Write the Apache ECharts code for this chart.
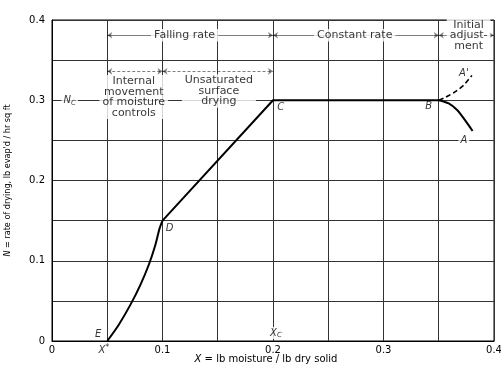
<!DOCTYPE html>
<html>
<head>
<meta charset="utf-8">
<script src="https://cdn.jsdelivr.net/npm/echarts@6/dist/echarts.min.js"></script>
<style>
html,body{margin:0;padding:0;background:#fff;}
#main{width:501px;height:365px;}
</style>
</head>
<body>
<div id="main"></div>
<script>
// drying rate curve
var curveED = [[0.05,0],[0.0603,0.02],[0.0709,0.045],[0.080,0.07],[0.0876,0.095],[0.0936,0.12],[0.0973,0.14],[0.1,0.15]];
var lineDCB = [[0.1,0.15],[0.2,0.3],[0.35,0.3]];
var curveBA = [[0.35,0.3],[0.359,0.296],[0.3666,0.2878],[0.3726,0.2775],[0.377,0.269],[0.3806,0.2617]];
var curveBA2 = [[0.35,0.3],[0.356,0.3037],[0.365,0.3107],[0.3727,0.319],[0.380,0.331]]; // dashed, to A'
var xTicks = ['0','0.1','0.2','0.3','0.4'];
var yTicks = ['0','0.1','0.2','0.3','0.4'];

// zone headings (x, y in data units)
var zoneTexts = [
	{value:[0.12,0.381], name:'Falling rate'},
	{value:[0.274,0.381], name:'Constant rate'},
	{value:[0.377,0.381], name:'Initial\nadjust-\nment'},
	{value:[0.074,0.304], name:'Internal\nmovement\nof moisture\ncontrols'},
	{value:[0.151,0.3115], name:'Unsaturated\nsurface\ndrying'}
];
// arrows: [x1, x2, y]
var arrowRows = [[0.05,0.2,0.381],[0.2,0.35,0.381],[0.35,0.4,0.381],[0.05,0.1,0.336],[0.1,0.2,0.336]];
// point letters
var pointTexts = [
	{value:[0.207,0.2916], name:'{i|C}'},
	{value:[0.341,0.292], name:'{i|B}'},
	{value:[0.3727,0.2496], name:'{i|A}'},
	{value:[0.3727,0.3336], name:'{i|A\'}'},
	{value:[0.1064,0.1408], name:'{i|D}'},
	{value:[0.0418,0.0087], name:'{i|E}'},
	{value:[0.016,0.3], name:'{i|N}{sub|C}'},
	{value:[0.047,-0.0115], name:'{i|X}{sup|*}'},
	{value:[0.2027,0.01], name:'{i|X}{sub|C}'}
];

var myChart = echarts.init(document.getElementById('main'));
var fnt = 'DejaVu Sans';
var ink = '#000';

function tickFmt(list){
	return function(v){
		var i = Math.round(v*10);
		if(Math.abs(v*10-i)<1e-6){
			return list[i];
		}
		return '';
	};
}

var arrowData = [];
for(var i=0;i<arrowRows.length;i++){
	var r = arrowRows[i];
	arrowData.push({coords:[[r[0],r[2]],[r[1],r[2]]], lineStyle:{type: r[2]<0.35 ? [3,2] : 'solid'}});
}

var richStyle = {
	i:{fontStyle:'italic', fontFamily:fnt, fontSize:10, color:ink, lineHeight:12},
	sub:{fontStyle:'italic', fontFamily:fnt, fontSize:7, color:ink, verticalAlign:'bottom', lineHeight:12},
	sup:{fontFamily:fnt, fontSize:8, color:ink, verticalAlign:'top', lineHeight:12}
};

var option = {
	backgroundColor:'#fff',
	animation:false,
	grid:{left:52, right:7, top:20, bottom:24, show:true, borderColor:ink, borderWidth:1, outerBoundsMode:'none', containLabel:false},
	xAxis:{
		type:'value', min:0, max:0.4, interval:0.05,
		name:'{i|X} = lb moisture / lb dry solid',
		nameLocation:'middle', nameGap:18, nameMoveOverlap:false,
		nameTextStyle:{fontFamily:fnt, fontSize:10, color:ink, padding:[0,14,0,0], verticalAlign:'middle',
			rich:{i:{fontStyle:'italic', fontFamily:fnt, fontSize:10, color:ink}}},
		axisLine:{lineStyle:{color:ink, width:1}},
		axisTick:{show:false},
		axisLabel:{formatter:tickFmt(xTicks), fontFamily:fnt, fontSize:10, color:ink, margin:4},
		splitLine:{lineStyle:{color:'#333', width:1}}
	},
	yAxis:{
		type:'value', min:0, max:0.4, interval:0.05,
		name:'{i|N} = rate of drying, lb evap\'d / hr sq ft',
		nameLocation:'middle', nameGap:40,
		nameTextStyle:{fontFamily:'DejaVu Sans Condensed', fontSize:9, color:ink,
			rich:{i:{fontStyle:'italic', fontFamily:'DejaVu Sans Condensed', fontSize:9, color:ink}}},
		axisLine:{lineStyle:{color:ink, width:1}},
		axisTick:{show:false},
		axisLabel:{formatter:tickFmt(yTicks), fontFamily:fnt, fontSize:10, color:ink, margin:7},
		splitLine:{lineStyle:{color:'#333', width:1}}
	},
	series:[
		{
			type:'lines', coordinateSystem:'cartesian2d', z:1,
			symbol:['arrow','arrow'], symbolSize:5,
			lineStyle:{color:ink, width:1},
			data:arrowData
		},
		{
			type:'scatter', symbolSize:0, z:3, clip:false,
			label:{
				show:true, position:'inside', fontFamily:fnt, fontSize:11, lineHeight:10.5,
				color:ink, backgroundColor:'#fff', padding:[1,3],
				formatter:function(p){return p.name;}
			},
			data:zoneTexts
		},
		{
			type:'scatter', symbolSize:0, z:1.5, clip:false,
			label:{
				show:true, position:'inside', backgroundColor:'#fff', padding:[0,2],
				rich:richStyle,
				formatter:function(p){return p.name;}
			},
			data:pointTexts
		},
		{
			type:'line', data:curveED, smooth:0.3, showSymbol:false, z:2,
			lineStyle:{color:'#000', width:2}
		},
		{
			type:'line', data:lineDCB, showSymbol:false, z:2,
			lineStyle:{color:'#000', width:2}
		},
		{
			type:'line', data:curveBA, smooth:0.3, showSymbol:false, z:2,
			lineStyle:{color:'#000', width:2}
		},
		{
			type:'line', data:curveBA2, smooth:0.3, showSymbol:false, z:2,
			lineStyle:{color:'#000', width:1.6, type:[5,3]}
		}
	]
};
myChart.setOption(option);
</script>
</body>
</html>
